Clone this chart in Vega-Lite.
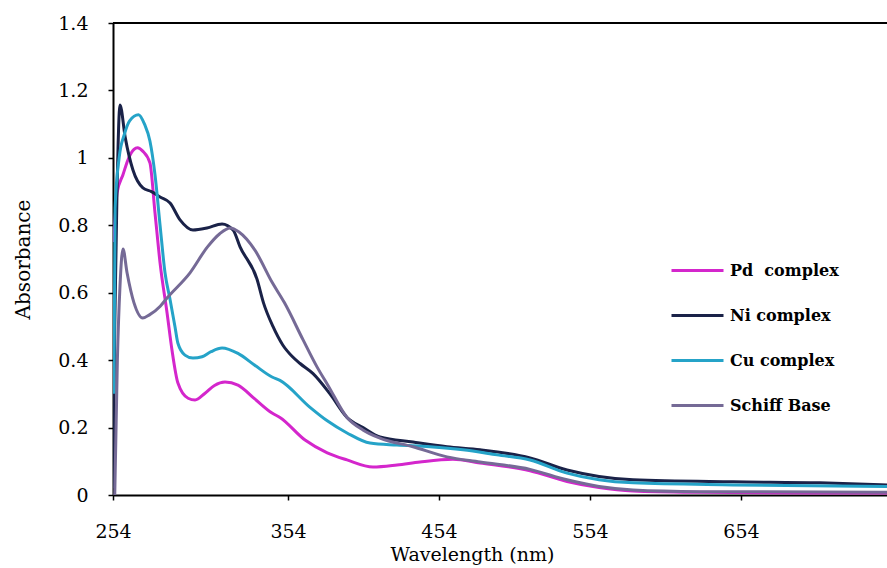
{
  "$schema": "https://vega.github.io/schema/vega-lite/v6.json",
  "width": 774,
  "height": 472,
  "autosize": {"type": "none"},
  "padding": {"left": 113, "top": 23, "right": 0, "bottom": 73},
  "background": "white",
  "config": {
    "view": {"stroke": null},
    "axis": {"grid": false}
  },
  "data": {
    "values": [
      {"series": "Pd complex", "wl": 254.5, "abs": 0.75},
      {"series": "Pd complex", "wl": 256.3, "abs": 0.896},
      {"series": "Pd complex", "wl": 259.7, "abs": 0.95},
      {"series": "Pd complex", "wl": 263, "abs": 1.0},
      {"series": "Pd complex", "wl": 266, "abs": 1.025},
      {"series": "Pd complex", "wl": 268, "abs": 1.03},
      {"series": "Pd complex", "wl": 271, "abs": 1.02},
      {"series": "Pd complex", "wl": 275.1, "abs": 0.985},
      {"series": "Pd complex", "wl": 278, "abs": 0.837},
      {"series": "Pd complex", "wl": 280.9, "abs": 0.688},
      {"series": "Pd complex", "wl": 284.9, "abs": 0.54},
      {"series": "Pd complex", "wl": 287.7, "abs": 0.43},
      {"series": "Pd complex", "wl": 291.1, "abs": 0.332},
      {"series": "Pd complex", "wl": 296.9, "abs": 0.287},
      {"series": "Pd complex", "wl": 300.9, "abs": 0.282},
      {"series": "Pd complex", "wl": 306.6, "abs": 0.302},
      {"series": "Pd complex", "wl": 312, "abs": 0.325},
      {"series": "Pd complex", "wl": 318, "abs": 0.335},
      {"series": "Pd complex", "wl": 325.4, "abs": 0.326},
      {"series": "Pd complex", "wl": 335, "abs": 0.285},
      {"series": "Pd complex", "wl": 344.9, "abs": 0.243},
      {"series": "Pd complex", "wl": 349.4, "abs": 0.23},
      {"series": "Pd complex", "wl": 365.3, "abs": 0.163},
      {"series": "Pd complex", "wl": 380, "abs": 0.125},
      {"series": "Pd complex", "wl": 393.1, "abs": 0.104},
      {"series": "Pd complex", "wl": 410.3, "abs": 0.083},
      {"series": "Pd complex", "wl": 426.2, "abs": 0.089},
      {"series": "Pd complex", "wl": 441.4, "abs": 0.098},
      {"series": "Pd complex", "wl": 463.2, "abs": 0.106},
      {"series": "Pd complex", "wl": 481.2, "abs": 0.095},
      {"series": "Pd complex", "wl": 514.3, "abs": 0.072},
      {"series": "Pd complex", "wl": 538.8, "abs": 0.04},
      {"series": "Pd complex", "wl": 560, "abs": 0.022},
      {"series": "Pd complex", "wl": 582.5, "abs": 0.012},
      {"series": "Pd complex", "wl": 626.8, "abs": 0.008},
      {"series": "Pd complex", "wl": 700, "abs": 0.006},
      {"series": "Pd complex", "wl": 750.7, "abs": 0.006},
      {"series": "Ni complex", "wl": 254, "abs": 0.02},
      {"series": "Ni complex", "wl": 255, "abs": 0.5},
      {"series": "Ni complex", "wl": 256.3, "abs": 0.9},
      {"series": "Ni complex", "wl": 258, "abs": 1.157},
      {"series": "Ni complex", "wl": 261, "abs": 1.06},
      {"series": "Ni complex", "wl": 265.4, "abs": 0.964},
      {"series": "Ni complex", "wl": 271.1, "abs": 0.911},
      {"series": "Ni complex", "wl": 276, "abs": 0.9},
      {"series": "Ni complex", "wl": 280.9, "abs": 0.884},
      {"series": "Ni complex", "wl": 286.6, "abs": 0.866},
      {"series": "Ni complex", "wl": 292.3, "abs": 0.816},
      {"series": "Ni complex", "wl": 299.7, "abs": 0.786},
      {"series": "Ni complex", "wl": 307.7, "abs": 0.792},
      {"series": "Ni complex", "wl": 316.3, "abs": 0.804},
      {"series": "Ni complex", "wl": 322.6, "abs": 0.786},
      {"series": "Ni complex", "wl": 326.6, "abs": 0.736},
      {"series": "Ni complex", "wl": 336.3, "abs": 0.64},
      {"series": "Ni complex", "wl": 340, "abs": 0.57},
      {"series": "Ni complex", "wl": 345.4, "abs": 0.5},
      {"series": "Ni complex", "wl": 351, "abs": 0.445},
      {"series": "Ni complex", "wl": 357, "abs": 0.41},
      {"series": "Ni complex", "wl": 362, "abs": 0.39},
      {"series": "Ni complex", "wl": 370.6, "abs": 0.36},
      {"series": "Ni complex", "wl": 381.8, "abs": 0.3},
      {"series": "Ni complex", "wl": 393.1, "abs": 0.23},
      {"series": "Ni complex", "wl": 403.7, "abs": 0.2},
      {"series": "Ni complex", "wl": 414.9, "abs": 0.172},
      {"series": "Ni complex", "wl": 436.8, "abs": 0.157},
      {"series": "Ni complex", "wl": 459.3, "abs": 0.143},
      {"series": "Ni complex", "wl": 481.2, "abs": 0.134},
      {"series": "Ni complex", "wl": 514.3, "abs": 0.11},
      {"series": "Ni complex", "wl": 538.8, "abs": 0.074},
      {"series": "Ni complex", "wl": 560, "abs": 0.055},
      {"series": "Ni complex", "wl": 582.5, "abs": 0.045},
      {"series": "Ni complex", "wl": 648.7, "abs": 0.039},
      {"series": "Ni complex", "wl": 706.3, "abs": 0.036},
      {"series": "Ni complex", "wl": 750.7, "abs": 0.03},
      {"series": "Cu complex", "wl": 254.5, "abs": 0.3},
      {"series": "Cu complex", "wl": 255.2, "abs": 0.85},
      {"series": "Cu complex", "wl": 257.5, "abs": 1.0},
      {"series": "Cu complex", "wl": 260.5, "abs": 1.07},
      {"series": "Cu complex", "wl": 263.5, "abs": 1.11},
      {"series": "Cu complex", "wl": 268.6, "abs": 1.128},
      {"series": "Cu complex", "wl": 272, "abs": 1.1},
      {"series": "Cu complex", "wl": 275.1, "abs": 1.05},
      {"series": "Cu complex", "wl": 278, "abs": 0.95},
      {"series": "Cu complex", "wl": 280.9, "abs": 0.8},
      {"series": "Cu complex", "wl": 283.7, "abs": 0.66},
      {"series": "Cu complex", "wl": 286.6, "abs": 0.58},
      {"series": "Cu complex", "wl": 289.4, "abs": 0.5},
      {"series": "Cu complex", "wl": 291.1, "abs": 0.45},
      {"series": "Cu complex", "wl": 295.1, "abs": 0.415},
      {"series": "Cu complex", "wl": 299.7, "abs": 0.406},
      {"series": "Cu complex", "wl": 304.9, "abs": 0.41},
      {"series": "Cu complex", "wl": 310, "abs": 0.425},
      {"series": "Cu complex", "wl": 316.3, "abs": 0.436},
      {"series": "Cu complex", "wl": 325.4, "abs": 0.42},
      {"series": "Cu complex", "wl": 335, "abs": 0.385},
      {"series": "Cu complex", "wl": 344.9, "abs": 0.35},
      {"series": "Cu complex", "wl": 349.4, "abs": 0.34},
      {"series": "Cu complex", "wl": 368.6, "abs": 0.26},
      {"series": "Cu complex", "wl": 380, "abs": 0.22},
      {"series": "Cu complex", "wl": 393.1, "abs": 0.184},
      {"series": "Cu complex", "wl": 408.3, "abs": 0.154},
      {"series": "Cu complex", "wl": 426.2, "abs": 0.148},
      {"series": "Cu complex", "wl": 448, "abs": 0.143},
      {"series": "Cu complex", "wl": 469.9, "abs": 0.134},
      {"series": "Cu complex", "wl": 492.4, "abs": 0.119},
      {"series": "Cu complex", "wl": 514.3, "abs": 0.104},
      {"series": "Cu complex", "wl": 538.8, "abs": 0.065},
      {"series": "Cu complex", "wl": 560, "abs": 0.045},
      {"series": "Cu complex", "wl": 582.5, "abs": 0.036},
      {"series": "Cu complex", "wl": 648.7, "abs": 0.03},
      {"series": "Cu complex", "wl": 750.7, "abs": 0.025},
      {"series": "Schiff Base", "wl": 255, "abs": 0.0},
      {"series": "Schiff Base", "wl": 256.5, "abs": 0.4},
      {"series": "Schiff Base", "wl": 258, "abs": 0.62},
      {"series": "Schiff Base", "wl": 259.7, "abs": 0.73},
      {"series": "Schiff Base", "wl": 262, "abs": 0.66},
      {"series": "Schiff Base", "wl": 266, "abs": 0.57},
      {"series": "Schiff Base", "wl": 271, "abs": 0.525},
      {"series": "Schiff Base", "wl": 275, "abs": 0.535},
      {"series": "Schiff Base", "wl": 281, "abs": 0.56},
      {"series": "Schiff Base", "wl": 285, "abs": 0.585},
      {"series": "Schiff Base", "wl": 298, "abs": 0.659},
      {"series": "Schiff Base", "wl": 308, "abs": 0.736},
      {"series": "Schiff Base", "wl": 315, "abs": 0.775},
      {"series": "Schiff Base", "wl": 321, "abs": 0.792},
      {"series": "Schiff Base", "wl": 326, "abs": 0.78},
      {"series": "Schiff Base", "wl": 335, "abs": 0.727},
      {"series": "Schiff Base", "wl": 345, "abs": 0.63},
      {"series": "Schiff Base", "wl": 352, "abs": 0.57},
      {"series": "Schiff Base", "wl": 364, "abs": 0.46},
      {"series": "Schiff Base", "wl": 373.2, "abs": 0.38},
      {"series": "Schiff Base", "wl": 380.5, "abs": 0.325},
      {"series": "Schiff Base", "wl": 393.1, "abs": 0.23},
      {"series": "Schiff Base", "wl": 403.6, "abs": 0.193},
      {"series": "Schiff Base", "wl": 414.9, "abs": 0.169},
      {"series": "Schiff Base", "wl": 436.8, "abs": 0.143},
      {"series": "Schiff Base", "wl": 459.3, "abs": 0.113},
      {"series": "Schiff Base", "wl": 481.2, "abs": 0.098},
      {"series": "Schiff Base", "wl": 514.3, "abs": 0.076},
      {"series": "Schiff Base", "wl": 538.8, "abs": 0.045},
      {"series": "Schiff Base", "wl": 560, "abs": 0.025},
      {"series": "Schiff Base", "wl": 582.5, "abs": 0.015},
      {"series": "Schiff Base", "wl": 626.8, "abs": 0.01},
      {"series": "Schiff Base", "wl": 750.7, "abs": 0.008}
    ]
  },
  "layer": [
    {
      "mark": {"type": "line", "strokeWidth": 3, "interpolate": "monotone", "clip": true},
      "encoding": {
        "x": {
          "field": "wl",
          "type": "quantitative",
          "scale": {"domain": [254, 354, 750.7], "range": [0, 175, 774], "nice": false, "zero": false},
          "axis": {
            "values": [254, 354, 454, 554, 654],
            "title": "Wavelength (nm)",
            "domainColor": "black",
            "domainWidth": 2,
            "tickColor": "black",
            "tickWidth": 1.5,
            "tickSize": 5,
            "labelFlush": false,
            "labelOverlap": false,
            "labelFont": "DejaVu Serif",
            "labelFontSize": 19,
            "labelColor": "black",
            "labelPadding": 22,
            "titleFont": "DejaVu Serif",
            "titleFontSize": 19,
            "titleFontWeight": "normal",
            "titleColor": "black",
            "titleX": 359,
            "titleY": 50,
            "titleBaseline": "top"
          }
        },
        "y": {
          "field": "abs",
          "type": "quantitative",
          "scale": {"domain": [0, 1.4], "nice": false},
          "axis": {
            "values": [0, 0.2, 0.4, 0.6, 0.8, 1, 1.2, 1.4],
            "format": "~g",
            "title": "Absorbance",
            "domainColor": "black",
            "domainWidth": 2,
            "tickColor": "black",
            "tickWidth": 1.5,
            "tickSize": 5,
            "labelFlush": false,
            "labelFont": "DejaVu Serif",
            "labelFontSize": 19,
            "labelColor": "black",
            "labelPadding": 20,
            "titleFont": "DejaVu Serif",
            "titleFontSize": 20,
            "titleFontWeight": "normal",
            "titleColor": "black",
            "titleX": -80,
            "titleBaseline": "bottom"
          }
        },
        "color": {
          "field": "series",
          "type": "nominal",
          "scale": {
            "domain": ["Pd complex", "Ni complex", "Cu complex", "Schiff Base"],
            "range": ["#d426cc", "#1a2248", "#25a3c8", "#756a96"]
          },
          "legend": {
            "orient": "none",
            "legendX": 583,
            "legendY": 233,
            "title": null,
            "padding": 0,
            "symbolType": "M-3,0H1",
            "symbolSize": 676,
            "symbolStrokeWidth": 3,
            "labelFont": "DejaVu Serif",
            "labelFontSize": 16,
            "labelFontWeight": "bold",
            "labelColor": "black",
            "labelOffset": 5,
            "rowPadding": 22,
            "labelExpr": "datum.label == 'Pd complex' ? 'Pd\u00a0 complex' : datum.label"
          }
        }
      }
    },
    {
      "mark": {"type": "rule", "color": "black", "strokeWidth": 2},
      "encoding": {"y": {"datum": 1.4}}
    }
  ]
}
